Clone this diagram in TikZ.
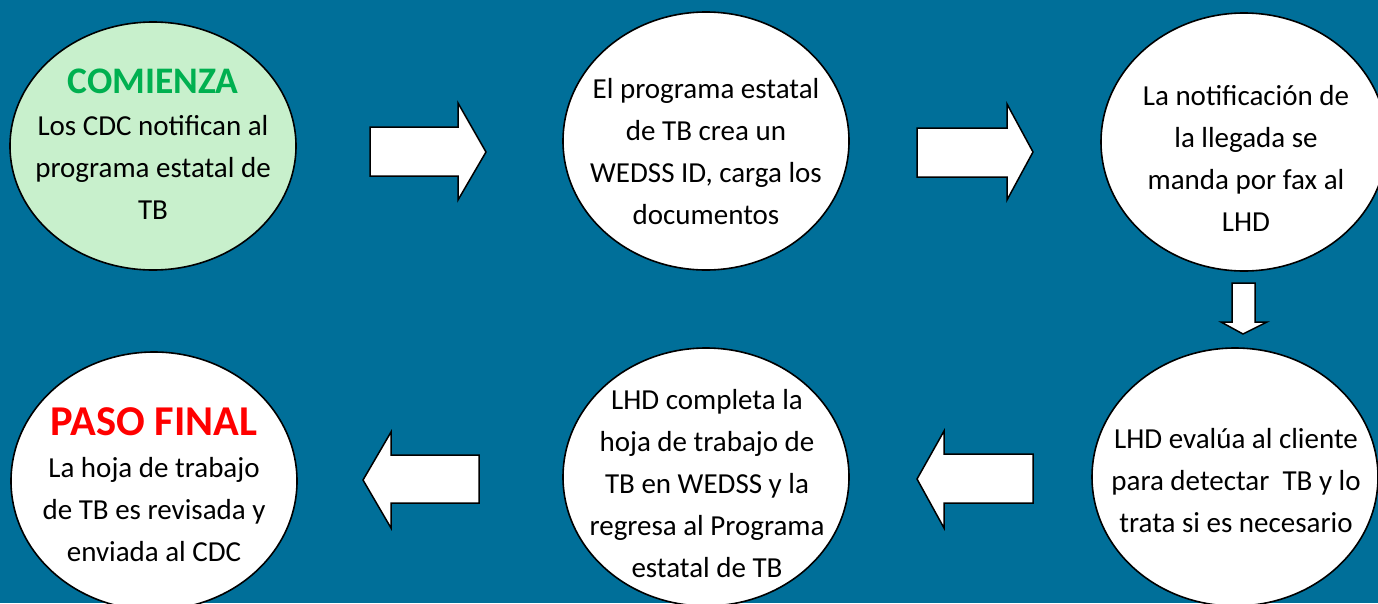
\documentclass[tikz,border=0pt]{standalone}
\usepackage{fontspec}
\setmainfont{Carlito}
\usetikzlibrary{shapes.geometric}
\definecolor{bg}{RGB}{0,111,153}
\definecolor{startfill}{RGB}{200,240,204}
\definecolor{startgreen}{RGB}{0,176,80}
\definecolor{finalred}{RGB}{255,0,0}
\tikzset{
  stepcircle/.style={ellipse, draw=black, line width=1.6pt, fill=white, inner sep=0pt,
    minimum width=286pt, minimum height=258pt},
  steptext/.style={align=center, font=\fontsize{29}{42}\selectfont, text=black, inner sep=0pt},
  blockarrow/.style={draw=black, line width=1.5pt, fill=white, line join=miter},
}
\begin{document}
\begin{tikzpicture}[x=1pt,y=-1pt]
\useasboundingbox (0,0) rectangle (1378,603);
\clip (0,0) rectangle (1378,603);
\fill[bg] (0,0) rectangle (1378,603);

% circles
\node[stepcircle, fill=startfill, minimum height=248pt] (c1) at (153,146) {};
\node[stepcircle] (c2) at (706,141) {};
\node[stepcircle] (c3) at (1244,142) {};
\node[stepcircle] (c4) at (1235,477) {};
\node[stepcircle] (c5) at (706,477) {};
\node[stepcircle] (c6) at (154,481) {};

% texts
\node[steptext] (t1) at (153,144) {{\fontsize{37.5}{42}\selectfont\bfseries\color{startgreen}COMIENZA}\\Los CDC notifican al\\programa estatal de\\TB};
\node[steptext] (t2) at (706,152) {El programa estatal\\de TB crea un\\WEDSS ID, carga los\\documentos};
\node[steptext] (t3) at (1246,158) {La notificación de\\la llegada se\\manda por fax al\\LHD};
\node[steptext] (t4) at (1236,481) {LHD evalúa al cliente\\para detectar~~TB y lo\\trata si es necesario};
\node[steptext] (t5) at (707,484) {LHD completa la\\hoja de trabajo de\\TB en WEDSS y la\\regresa al Programa\\estatal de TB};
\node[steptext] (t6) at (154,485) {{\fontsize{42.5}{42}\selectfont\bfseries\color{finalred}PASO FINAL}\\La hoja de trabajo\\de TB es revisada y\\enviada al CDC};

% block arrows
\draw[blockarrow] (370,127) -- (458,127) -- (458,103) -- (486,152) -- (458,200) -- (458,176) -- (370,176) -- cycle;
\draw[blockarrow] (917,128) -- (1007,128) -- (1007,104) -- (1033,152) -- (1007,200) -- (1007,177) -- (917,177) -- cycle;
\draw[blockarrow] (1232,283) -- (1255,283) -- (1255,322) -- (1267,322) -- (1243,334) -- (1221,322) -- (1232,322) -- cycle;
\draw[blockarrow] (1033,454) -- (944,454) -- (944,431) -- (917,479) -- (944,528) -- (944,503) -- (1033,503) -- cycle;
\draw[blockarrow] (479,455) -- (391,455) -- (391,432) -- (363,480) -- (391,528) -- (391,503) -- (479,503) -- cycle;
\end{tikzpicture}
\end{document}
